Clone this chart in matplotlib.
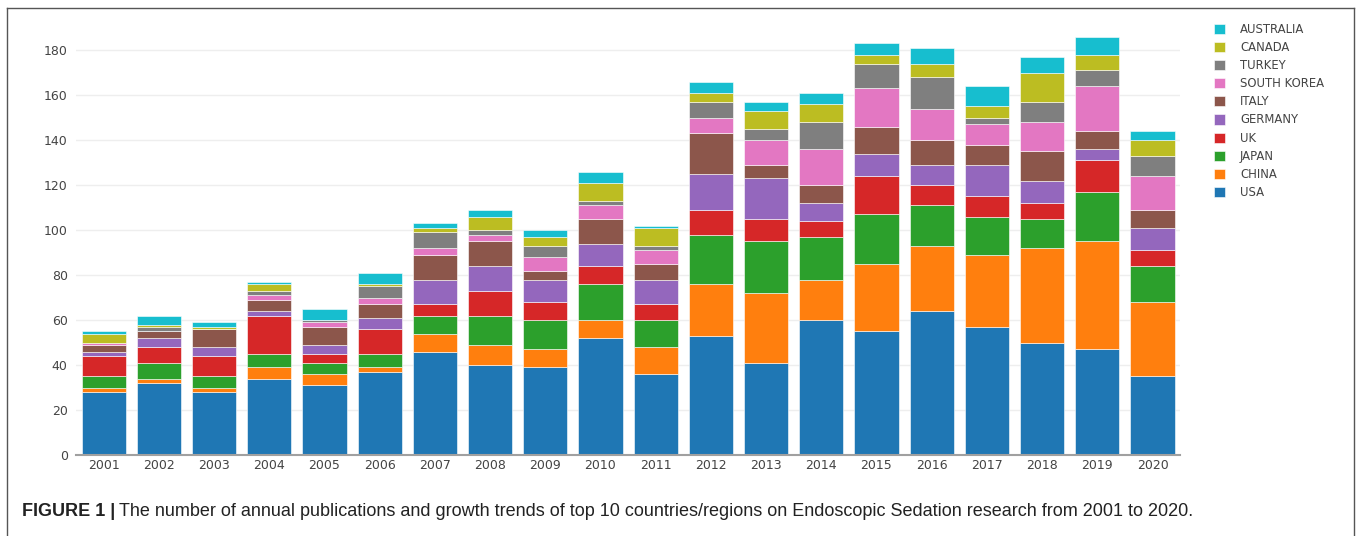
"""
Stacked bar chart: annual publications of top 10 countries/regions
on Endoscopic Sedation research, 2001-2020.
"""

import matplotlib
matplotlib.use("Agg")
import matplotlib.pyplot as plt
from matplotlib.lines import Line2D
from matplotlib.patches import Patch

years = [str(y) for y in range(2001, 2021)]

# series values (publications per year)
usa       = [28, 32, 28, 34, 31, 37, 46, 40, 39, 52, 36, 53, 41, 60, 55, 64, 57, 50, 47, 35]
china     = [2, 2, 2, 5, 5, 2, 8, 9, 8, 8, 12, 23, 31, 18, 30, 29, 32, 42, 48, 33]
japan     = [5, 7, 5, 6, 5, 6, 8, 13, 13, 16, 12, 22, 23, 19, 22, 18, 17, 13, 22, 16]
uk        = [9, 7, 9, 17, 4, 11, 5, 11, 8, 8, 7, 11, 10, 7, 17, 9, 9, 7, 14, 7]
germany   = [2, 4, 4, 2, 4, 5, 11, 11, 10, 10, 11, 16, 18, 8, 10, 9, 14, 10, 5, 10]
italy     = [3, 3, 8, 5, 8, 6, 11, 11, 4, 11, 7, 18, 6, 8, 12, 11, 9, 13, 8, 8]
korea     = [1, 0, 0, 2, 2, 3, 3, 3, 6, 6, 6, 7, 11, 16, 17, 14, 9, 13, 20, 15]
turkey    = [0, 2, 0, 2, 1, 5, 7, 2, 5, 2, 2, 7, 5, 12, 11, 14, 3, 9, 7, 9]
canada    = [4, 1, 1, 3, 0, 1, 2, 6, 4, 8, 8, 4, 8, 8, 4, 6, 5, 13, 7, 7]
australia = [1, 4, 2, 1, 5, 5, 2, 3, 3, 5, 1, 5, 4, 5, 5, 7, 9, 7, 8, 4]

countries = ["USA", "CHINA", "JAPAN", "UK", "GERMANY", "ITALY",
             "SOUTH KOREA", "TURKEY", "CANADA", "AUSTRALIA"]
series = [usa, china, japan, uk, germany, italy, korea, turkey, canada, australia]
colors = ["#1f77b4", "#ff7f0e", "#2ca02c", "#d62728", "#9467bd",
          "#8c564b", "#e377c2", "#7f7f7f", "#bcbd22", "#17becf"]

TEXT = "#444444"
CAPTION_FONT = ["Liberation Sans", "DejaVu Sans"]

fig = plt.figure(figsize=(13.58, 5.36), dpi=100)
ax = fig.add_axes([0.056, 0.151, 0.813, 0.8186])

x = list(range(len(years)))
bottom = [0] * len(years)
for name, vals, col in zip(countries, series, colors):
    ax.bar(x, vals, width=0.8, bottom=bottom, color=col,
           edgecolor="#ffffff", linewidth=0.4, label=name, zorder=2)
    bottom = [b + v for b, v in zip(bottom, vals)]

ax.set_xlim(-0.5, len(years) - 0.5)
ax.set_ylim(0, 195)
ax.set_yticks(range(0, 181, 20))
ax.set_xticks(x)
ax.set_xticklabels(years)
ax.tick_params(axis="both", length=0, labelsize=9, colors=TEXT)
ax.tick_params(axis="y", pad=6)
ax.tick_params(axis="x", pad=3)
ax.grid(axis="y", color="#eeeeee", linewidth=1, zorder=0)
ax.set_axisbelow(True)
for side in ["top", "right", "left"]:
    ax.spines[side].set_visible(False)
ax.spines["bottom"].set_color("#a0a0a0")
ax.spines["bottom"].set_linewidth(1.5)

# legend: top-down order is reversed (Australia first)
handles = [Patch(facecolor=c, edgecolor="#ffffff", linewidth=0.4)
           for c in colors[::-1]]
fig.legend(handles, countries[::-1], loc="upper left",
           bbox_to_anchor=(0.886, 0.977), frameon=False, fontsize=8.4,
           labelcolor=TEXT, handlelength=0.95, handleheight=0.95,
           handletextpad=1.3, labelspacing=0.44)

# caption below the chart: bold label, then the body right after it
label = fig.text(0.016, 0.038, "FIGURE 1 |", fontsize=13, fontweight="bold",
                 family=CAPTION_FONT, color="#222222", va="baseline")
fig.canvas.draw()
bb = label.get_window_extent().transformed(fig.transFigure.inverted())
fig.text(bb.x1 + 0.003, 0.038,
         "The number of annual publications and growth trends of top 10 "
         "countries/regions on Endoscopic Sedation research from 2001 to 2020.",
         fontsize=13, family=CAPTION_FONT, color="#222222", va="baseline")

# outer frame (left, top, right)
frame_kw = dict(color="#555555", linewidth=1.0, transform=fig.transFigure)
fig.add_artist(Line2D([0.005, 0.005], [0.0, 0.985], **frame_kw))
fig.add_artist(Line2D([0.005, 0.997], [0.985, 0.985], **frame_kw))
fig.add_artist(Line2D([0.997, 0.997], [0.0, 0.985], **frame_kw))

fig.savefig("out.png", dpi=100)
